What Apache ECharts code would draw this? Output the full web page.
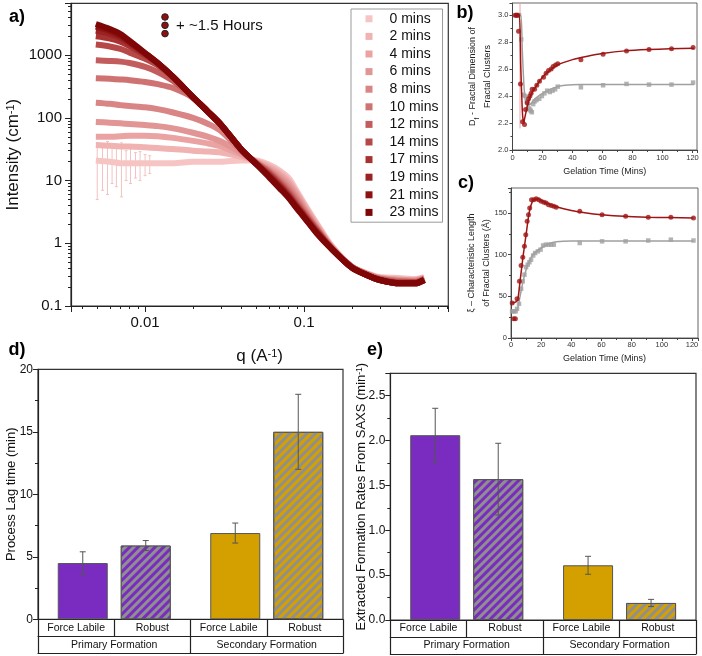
<!DOCTYPE html>
<html><head><meta charset="utf-8">
<script src="https://cdn.jsdelivr.net/npm/echarts@6/dist/echarts.min.js"></script>
<style>html,body{margin:0;padding:0;background:#fff}#c{width:702px;height:656px}</style>
</head><body><div id="c"></div>
<script>
const FONT = 'Liberation Sans, Arial, Helvetica, sans-serif';

// ---------- Panel a: SAXS curves ----------
const q = [0.0049,0.006,0.007,0.008,0.01,0.012,0.015,0.02,0.025,0.03,0.04,0.05,0.06,0.07,0.08,0.09,0.1,0.12,0.15,0.2,0.25,0.3,0.4,0.5,0.57];
const timeLabels = ['0 mins','2 mins','4 mins','6 mins','8 mins','10 mins','12 mins','14 mins','17 mins','19 mins','21 mins','23 mins'];
const I_0min  = [21,20,19,19,19,19,19,20,20,20,21,21,18,14.5,11,6.8,4.4,2.1,0.9,0.42,0.33,0.29,0.28,0.27,0.29];
const I_2min  = [37,36,35,35,34,33,32,30,29,28,24,20.5,17,13.5,10,6.4,4.1,2.0,0.88,0.42,0.33,0.28,0.27,0.26,0.28];
const I_4min  = [50,50,51,52,52,51,48,43,39,35,26,20,16,12.5,9.2,6.0,3.9,1.9,0.86,0.42,0.32,0.28,0.26,0.26,0.28];
const I_6min  = [86,84,82,80,77,74,68,58,50,42,28,19.5,15,11.5,8.4,5.5,3.6,1.8,0.85,0.42,0.32,0.28,0.26,0.25,0.27];
const I_8min  = [175,168,160,155,148,138,122,100,80,62,30,19.5,14.5,10.5,7.7,5.1,3.4,1.75,0.84,0.42,0.32,0.27,0.25,0.25,0.27];
const I_10min = [430,420,410,400,375,345,300,210,122,78,32,19,14,10,7.0,4.7,3.2,1.7,0.83,0.42,0.32,0.27,0.25,0.24,0.27];
const I_12min = [830,810,790,750,650,540,390,215,124,78,32,19,13.5,9.3,6.5,4.3,3.0,1.65,0.82,0.42,0.31,0.27,0.24,0.24,0.27];
const I_14min = [1480,1380,1260,1100,880,690,440,215,124,78,32,18.5,13,9,6.1,4.1,2.9,1.6,0.82,0.41,0.31,0.26,0.24,0.24,0.26];
const I_17min = [2000,1850,1650,1400,1000,740,450,215,124,78,32,18.5,12.5,8.5,5.8,3.9,2.8,1.55,0.81,0.41,0.31,0.26,0.23,0.23,0.26];
const I_19min = [2450,2200,1900,1550,1050,750,450,215,124,78,32,18.5,12,8.2,5.6,3.8,2.7,1.5,0.81,0.41,0.31,0.26,0.23,0.23,0.26];
const I_21min = [2850,2450,2050,1620,1070,750,450,215,124,78,32,18.5,11.8,7.9,5.4,3.7,2.65,1.48,0.8,0.41,0.31,0.26,0.23,0.23,0.26];
const I_23min = [3150,2620,2180,1690,1085,750,450,215,124,78,32,18.5,11.5,7.6,5.3,3.6,2.6,1.45,0.8,0.41,0.31,0.26,0.23,0.23,0.26];
const intensities = [I_0min,I_2min,I_4min,I_6min,I_8min,I_10min,I_12min,I_14min,I_17min,I_19min,I_21min,I_23min];
// error bars of the 0 min curve: [q, low, high]
const err_0min = [[0.0050,5,40],[0.0054,7,38],[0.0058,6,42],[0.0062,9,34],[0.0066,8,36],[0.0071,5.5,40],[0.0076,10,30],[0.0081,9,32],[0.0087,11,28],[0.0093,10,29],[0.0100,12,26],[0.0107,13,25]];

// ---------- Panel b: fractal dimension ----------
const bRedPts = [[1.8,3.0],[2.7,3.0],[3.5,3.0],[4,2.88],[5.3,2.49],[6.7,2.21],[8,2.19],[8.7,2.30],[9.8,2.35],[10.7,2.38],[11.6,2.40],[12.4,2.42],[13.1,2.45],[14.7,2.45],[16.2,2.48],[18,2.51],[20.7,2.54],[22.4,2.57],[24,2.59],[25.8,2.60],[27.1,2.62],[28.7,2.63],[30.2,2.64],[45.6,2.67],[60.4,2.71],[76,2.735],[91,2.745],[106,2.75],[120.4,2.76]];
const bRedFit = [[1.8,3.0],[4.5,3.0],[5.5,2.62],[6.5,2.3],[7.3,2.2],[8,2.23],[10,2.33],[12,2.40],[15,2.46],[20,2.54],[25,2.59],[30,2.63],[40,2.67],[50,2.695],[60,2.715],[75,2.735],[90,2.745],[105,2.75],[121,2.755]];
const bGrayPts = [[2.2,3.0],[3.3,3.0],[4.4,3.0],[5.8,2.82],[7.3,2.41],[8.4,2.40],[9.6,2.36],[10.7,2.31],[11.6,2.30],[12.2,2.29],[12.9,2.28],[13.8,2.34],[14.7,2.36],[16,2.37],[17.8,2.38],[19.6,2.40],[21.3,2.42],[23.1,2.44],[24.9,2.43],[26.7,2.44],[28.4,2.45],[30.2,2.47],[45.6,2.465],[60.4,2.48],[76,2.49],[91,2.485],[106,2.485],[120.4,2.50]];
const bGrayFit = [[2.2,3.0],[5.5,3.0],[6.5,2.75],[7.8,2.45],[9.5,2.33],[12,2.34],[15,2.38],[20,2.42],[25,2.45],[30,2.47],[35,2.48],[45,2.485],[121,2.485]];
const bErr = [[5,2.16,3.09]];

// ---------- Panel c: characteristic length ----------
const cRedPts = [[0.8,42],[1.8,23],[2.9,23],[4,47],[5.6,68],[6.7,87],[7.8,97],[8.9,110],[9.8,124],[10.7,140],[11.6,148],[12.4,156],[13.6,166],[15.1,166],[16.7,167],[18.4,166],[20,164],[21.8,163],[23.3,162],[24.9,160],[26.7,159],[28.4,158],[30,157],[45.6,152],[60.4,148],[76,146],[91,145],[106,145],[121,144]];
const cRedFit = [[0.8,42],[3,43],[4.5,46],[6,68],[8,98],[10,124],[12,150],[14,163],[16,166.5],[18,167],[20,165],[25,161],[30,157.5],[40,153],[50,150],[60,148],[75,146],[90,145],[105,144.5],[121,144]];
const cGrayPts = [[0.7,32],[2,32],[3.1,32],[4,35],[5.3,41],[6.7,59],[7.8,68],[8.9,76],[10,85],[11.1,88],[12.2,91],[13.3,94],[14.7,99],[16,102],[17.8,104],[19.6,106],[21.3,111],[23.1,112],[24.9,112],[26.7,112],[28.4,112],[45.6,114],[60.4,116],[76,116],[91,117],[106,118],[121,117]];
const cGrayFit = [[0.7,31],[3,32],[4.5,36],[6,50],[8,68],[10,82],[12,92],[15,101],[20,108],[25,113],[30,115.5],[40,116.5],[121,116.5]];

// ---------- Panels d, e: bars ----------
const groupNames = ['Primary Formation','Secondary Formation'];
const subNames = ['Force Labile','Robust'];
const lagForceLabile = [4.5, 6.9];
const lagForceLabileErr = [0.9, 0.8];
const lagRobust = [5.9, 15.0];
const lagRobustErr = [0.4, 3.0];
const rateForceLabile = [2.06, 0.61];
const rateForceLabileErr = [0.30, 0.10];
const rateRobust = [1.57, 0.19];
const rateRobustErr = [0.40, 0.04];

// ---------- styles ----------
const shades = ['#f7c4c4','#f1b2b2','#eaa2a2','#e29595','#d98585','#cf7272','#c35d5d','#b64848','#a83232','#9b2222','#8c1212','#7e0606'];
const purple = '#7a2cc0', gold = '#d4a000', stripe = '#8f8f8f';
const darkRed = '#9e1414', grayPt = '#a0a0a0';
const BAR_W = 50, BAR_GAP = 0.26;

function errRender(color, capHalf, offset) {
  return function (params, api) {
    const x = api.value(0), lo = api.value(1), hi = api.value(2);
    const a = api.coord([x, lo]), b = api.coord([x, hi]);
    const cx = a[0] + (offset || 0);
    const st = {stroke: color, lineWidth: 1};
    const ch = [{type: 'line', shape: {x1: cx, y1: a[1], x2: cx, y2: b[1]}, style: st}];
    if (capHalf) {
      ch.push({type: 'line', shape: {x1: cx - capHalf, y1: a[1], x2: cx + capHalf, y2: a[1]}, style: st});
      ch.push({type: 'line', shape: {x1: cx - capHalf, y1: b[1], x2: cx + capHalf, y2: b[1]}, style: st});
    }
    return {type: 'group', children: ch};
  };
}

const axisCol = '#222';
const lineSt = {color: axisCol, width: 1.2};
const grids = [
  {left: 71, top: 3.3, width: 377.3, height: 302.7},
  {left: 512.5, top: 3, width: 184.5, height: 147},
  {left: 511, top: 188, width: 187, height: 150},
  {left: 38, top: 369.3, width: 305, height: 250},
  {left: 390.3, top: 373.3, width: 305.7, height: 246.7}
].map(g => Object.assign({show: true, borderColor: '#333', borderWidth: 1.2, backgroundColor: 'transparent', containLabel: false, outerBoundsMode: 'none'}, g));
grids[1].borderColor = '#666'; grids[2].borderColor = '#666';
grids[1].borderWidth = 1; grids[2].borderWidth = 1;

const xAxes = [], yAxes = [];
// a
xAxes.push({gridIndex: 0, type: 'log', logBase: 10, min: 0.00342, max: 0.808,
  axisLine: {show: true, onZero: false, lineStyle: lineSt},
  axisTick: {show: true, length: 6, lineStyle: {color: axisCol}},
  minorTick: {show: true, splitNumber: 9, length: 3, lineStyle: {color: axisCol}},
  splitLine: {show: false}, minorSplitLine: {show: false},
  axisLabel: {fontSize: 15, fontFamily: FONT, color: '#111', margin: 9, showMinLabel: false, showMaxLabel: false, formatter: v => String(v)},
  name: 'q (A{sup|-1})', nameLocation: 'middle', nameGap: 42, nameMoveOverlap: false,
  nameTextStyle: {fontSize: 17, fontFamily: FONT, color: '#111', rich: {sup: {fontSize: 11, fontFamily: FONT, color: '#111', verticalAlign: 'top', lineHeight: 12}}}
});
yAxes.push({gridIndex: 0, type: 'log', logBase: 10, min: 0.1, max: 6730,
  axisLine: {show: true, onZero: false, lineStyle: lineSt},
  axisTick: {show: true, length: 6, lineStyle: {color: axisCol}},
  minorTick: {show: true, splitNumber: 9, length: 3, lineStyle: {color: axisCol}},
  splitLine: {show: false}, minorSplitLine: {show: false},
  axisLabel: {fontSize: 15, fontFamily: FONT, color: '#111', margin: 9, showMaxLabel: false, formatter: v => String(v)},
  name: 'Intensity (cm{sup|-1})', nameLocation: 'middle', nameGap: 49, nameMoveOverlap: false,
  nameTextStyle: {fontSize: 17, fontFamily: FONT, color: '#111', rich: {sup: {fontSize: 11, fontFamily: FONT, color: '#111', verticalAlign: 'top', lineHeight: 12}}}
});
// b, c
function smallX(gi, max, gap, margin) {
  return {gridIndex: gi, type: 'value', min: 0, max: max, interval: 20,
    axisLine: {show: true, onZero: false, lineStyle: {color: '#444', width: 1}},
    axisTick: {show: true, length: 3, lineStyle: {color: '#444'}},
    minorTick: {show: true, splitNumber: 2, length: 2, lineStyle: {color: '#444'}},
    splitLine: {show: false},
    axisLabel: {fontSize: 7.5, fontFamily: FONT, color: '#333', margin: margin, showMaxLabel: false},
    name: 'Gelation Time (Mins)', nameLocation: 'middle', nameGap: gap, nameMoveOverlap: false,
    nameTextStyle: {fontSize: 9, fontFamily: FONT, color: '#222'}};
}
xAxes.push(smallX(1, 123, 17, 4));
xAxes.push(smallX(2, 124, 16, 3));
yAxes.push({gridIndex: 1, type: 'value', min: 2.0, max: 3.09, interval: 0.2,
  axisLine: {show: true, onZero: false, lineStyle: {color: '#444', width: 1}},
  axisTick: {show: true, length: 3, lineStyle: {color: '#444'}},
  minorTick: {show: true, splitNumber: 2, length: 2, lineStyle: {color: '#444'}},
  splitLine: {show: false},
  axisLabel: {fontSize: 7.5, fontFamily: FONT, color: '#333', margin: 4, showMaxLabel: false, formatter: v => v.toFixed(1)},
  name: 'D{sub|f} - Fractal Dimension of\nFractal Clusters', nameLocation: 'middle', nameGap: 17, nameMoveOverlap: false,
  nameTextStyle: {fontSize: 9, lineHeight: 15, fontFamily: FONT, color: '#222', rich: {sub: {fontSize: 6.5, fontFamily: FONT, color: '#222', verticalAlign: 'bottom', lineHeight: 12}}}
});
yAxes.push({gridIndex: 2, type: 'value', min: 0, max: 180, interval: 50,
  axisLine: {show: true, onZero: false, lineStyle: {color: '#444', width: 1}},
  axisTick: {show: true, length: 3, lineStyle: {color: '#444'}},
  minorTick: {show: true, splitNumber: 2, length: 2, lineStyle: {color: '#444'}},
  splitLine: {show: false},
  axisLabel: {fontSize: 7.5, fontFamily: FONT, color: '#333', margin: 4, showMaxLabel: false},
  name: 'ξ – Characteristic Length\nof Fractal Clusters (Å)', nameLocation: 'middle', nameGap: 17, nameMoveOverlap: false,
  nameTextStyle: {fontSize: 9, lineHeight: 15, fontFamily: FONT, color: '#222'}
});
// d, e
function barAxes(gi, yCfg) {
  const base = xAxes.length;
  xAxes.push({gridIndex: gi, type: 'category', data: groupNames,
    axisLine: {show: true, onZero: false, lineStyle: lineSt}, axisTick: {show: false}, axisLabel: {show: false}, splitLine: {show: false}});
  xAxes.push({gridIndex: gi, type: 'category', position: 'bottom', offset: 0,
    data: groupNames.flatMap(() => subNames),
    axisLine: {show: true, onZero: false, lineStyle: lineSt},
    axisTick: {show: true, interval: 0, length: 17, alignWithLabel: false, lineStyle: {color: axisCol, width: 1.2}},
    axisLabel: {interval: 0, margin: 3, fontSize: 10.5, fontFamily: FONT, color: '#111'}, splitLine: {show: false}});
  xAxes.push({gridIndex: gi, type: 'category', position: 'bottom', offset: 17, data: groupNames,
    axisLine: {show: true, onZero: false, lineStyle: lineSt},
    axisTick: {show: true, interval: 0, length: 17, alignWithLabel: false, lineStyle: {color: axisCol, width: 1.2}},
    axisLabel: {interval: 0, margin: 3, fontSize: 10.5, fontFamily: FONT, color: '#111'}, splitLine: {show: false}});
  xAxes.push({gridIndex: gi, type: 'category', position: 'bottom', offset: 34, data: [''],
    axisLine: {show: true, onZero: false, lineStyle: lineSt}, axisTick: {show: false}, axisLabel: {show: false}, splitLine: {show: false}});
  yAxes.push(Object.assign({gridIndex: gi, type: 'value',
    axisLine: {show: true, onZero: false, lineStyle: lineSt},
    axisTick: {show: true, length: 5, lineStyle: {color: axisCol}},
    minorTick: {show: true, splitNumber: 2, length: 3, lineStyle: {color: axisCol}},
    splitLine: {show: false}, nameLocation: 'middle', nameMoveOverlap: false,
    nameTextStyle: {fontSize: 13, fontFamily: FONT, color: '#111', rich: {sup: {fontSize: 8.5, fontFamily: FONT, color: '#111', verticalAlign: 'top', lineHeight: 9}}}
  }, yCfg));
  return base;
}
const dX = barAxes(3, {min: 0, max: 20, interval: 5, name: 'Process Lag time (min)', nameGap: 20,
  axisLabel: {fontSize: 12, fontFamily: FONT, color: '#111', margin: 5}});
const eX = barAxes(4, {min: 0, max: 2.75, interval: 0.5, name: 'Extracted Formation Rates From SAXS (min{sup|-1})', nameGap: 22,
  axisLabel: {fontSize: 12, fontFamily: FONT, color: '#111', margin: 5, showMaxLabel: false, formatter: v => v.toFixed(1)}});

const series = [];
// a
series.push({type: 'custom', xAxisIndex: 0, yAxisIndex: 0, data: err_0min, renderItem: errRender('#f3c2c2', 1.5, 0), z: 1, silent: true});
intensities.forEach((arr, k) => series.push({
  type: 'line', name: timeLabels[k], xAxisIndex: 0, yAxisIndex: 0,
  data: q.map((x, i) => [x, arr[i]]), showSymbol: false, symbol: 'rect', smooth: 0.3,
  color: shades[k], itemStyle: {color: shades[k]},
  lineStyle: {width: 6, color: shades[k], join: 'round'}, z: 2 + k * 0.01, silent: true
}));
// b
series.push({type: 'custom', xAxisIndex: 1, yAxisIndex: 1, data: bErr, renderItem: errRender('#f0a0a0', 0, 0), z: 1, silent: true});
series.push({type: 'line', xAxisIndex: 1, yAxisIndex: 1, data: bGrayFit, showSymbol: false, smooth: 0.2, lineStyle: {color: grayPt, width: 1.5}, z: 2});
series.push({type: 'scatter', xAxisIndex: 1, yAxisIndex: 1, data: bGrayPts, symbol: 'rect', symbolSize: 4.5, itemStyle: {color: grayPt}, z: 3});
series.push({type: 'line', xAxisIndex: 1, yAxisIndex: 1, data: bRedFit, showSymbol: false, smooth: 0.2, lineStyle: {color: darkRed, width: 1.5}, z: 4});
series.push({type: 'scatter', xAxisIndex: 1, yAxisIndex: 1, data: bRedPts, symbol: 'circle', symbolSize: 5, itemStyle: {color: darkRed}, z: 5});
// c
series.push({type: 'line', xAxisIndex: 2, yAxisIndex: 2, data: cGrayFit, showSymbol: false, smooth: 0.2, lineStyle: {color: grayPt, width: 1.5}, z: 2});
series.push({type: 'scatter', xAxisIndex: 2, yAxisIndex: 2, data: cGrayPts, symbol: 'rect', symbolSize: 4.5, itemStyle: {color: grayPt}, z: 3});
series.push({type: 'line', xAxisIndex: 2, yAxisIndex: 2, data: cRedFit, showSymbol: false, smooth: 0.2, lineStyle: {color: darkRed, width: 1.5}, z: 4});
series.push({type: 'scatter', xAxisIndex: 2, yAxisIndex: 2, data: cRedPts, symbol: 'circle', symbolSize: 5, itemStyle: {color: darkRed}, z: 5});
// d, e
const groupColors = [purple, gold];
const decal = {symbol: 'rect', symbolSize: 1, color: stripe, dashArrayX: [1, 0], dashArrayY: [2.2, 2.2], rotation: -Math.PI / 4};
const off = BAR_W * (1 + BAR_GAP) / 2;
function barSeries(xi, yi, fl, flErr, rb, rbErr) {
  series.push({type: 'bar', xAxisIndex: xi, yAxisIndex: yi, barWidth: BAR_W, barGap: (BAR_GAP * 100) + '%',
    data: fl.map((v, i) => ({value: v, itemStyle: {color: groupColors[i]}})),
    itemStyle: {borderColor: '#555', borderWidth: 1}, z: 2, silent: true});
  series.push({type: 'bar', xAxisIndex: xi, yAxisIndex: yi, barWidth: BAR_W, barGap: (BAR_GAP * 100) + '%',
    data: rb.map((v, i) => ({value: v, itemStyle: {color: groupColors[i], decal: decal}})),
    itemStyle: {borderColor: '#555', borderWidth: 1, decal: decal}, z: 2, silent: true});
  series.push({type: 'custom', xAxisIndex: xi, yAxisIndex: yi, z: 5, silent: true,
    data: fl.map((v, i) => [i, v - flErr[i], v + flErr[i]]), renderItem: errRender('#555', 3, -off)});
  series.push({type: 'custom', xAxisIndex: xi, yAxisIndex: yi, z: 5, silent: true,
    data: rb.map((v, i) => [i, v - rbErr[i], v + rbErr[i]]), renderItem: errRender('#555', 3, off)});
}
barSeries(dX, 3, lagForceLabile, lagForceLabileErr, lagRobust, lagRobustErr);
barSeries(eX, 4, rateForceLabile, rateForceLabileErr, rateRobust, rateRobustErr);

function label(t, x, y) {
  return {type: 'text', x: x, y: y, z: 100, style: {text: t, font: 'bold 18px ' + FONT, fill: '#000', textAlign: 'center', textVerticalAlign: 'middle', verticalAlign: 'middle'}};
}
const graphic = [
  label('a)', 17, 17), label('b)', 465, 13), label('c)', 466, 183), label('d)', 17, 350), label('e)', 375, 350),
  {type: 'circle', z: 100, shape: {cx: 165, cy: 17, r: 3.3}, style: {fill: '#8e1010', stroke: '#222', lineWidth: 1}},
  {type: 'circle', z: 100, shape: {cx: 165, cy: 25.3, r: 3.3}, style: {fill: '#8e1010', stroke: '#222', lineWidth: 1}},
  {type: 'circle', z: 100, shape: {cx: 165, cy: 33.6, r: 3.3}, style: {fill: '#8e1010', stroke: '#222', lineWidth: 1}},
  {type: 'text', z: 100, x: 176, y: 26, style: {text: '+ ~1.5 Hours', font: '15px ' + FONT, fill: '#111', textAlign: 'left', textVerticalAlign: 'middle', verticalAlign: 'middle'}}
];

const chart = echarts.init(document.getElementById('c'), null, {renderer: 'canvas'});
chart.setOption({
  animation: false,
  backgroundColor: '#fff',
  textStyle: {fontFamily: FONT},
  grid: grids,
  xAxis: xAxes,
  yAxis: yAxes,
  legend: {
    data: timeLabels, left: 351, top: 9, orient: 'vertical', itemGap: 0, itemWidth: 7, itemHeight: 7, icon: 'rect',
    padding: [1, 4, 1, 14.5], borderColor: '#9a9a9a', borderWidth: 1, backgroundColor: '#fff', selectedMode: false,
    textStyle: {fontSize: 14, fontFamily: FONT, color: '#111', lineHeight: 17.6, padding: [0, 0, 0, 12]}
  },
  graphic: graphic,
  series: series
});
</script></body></html>
